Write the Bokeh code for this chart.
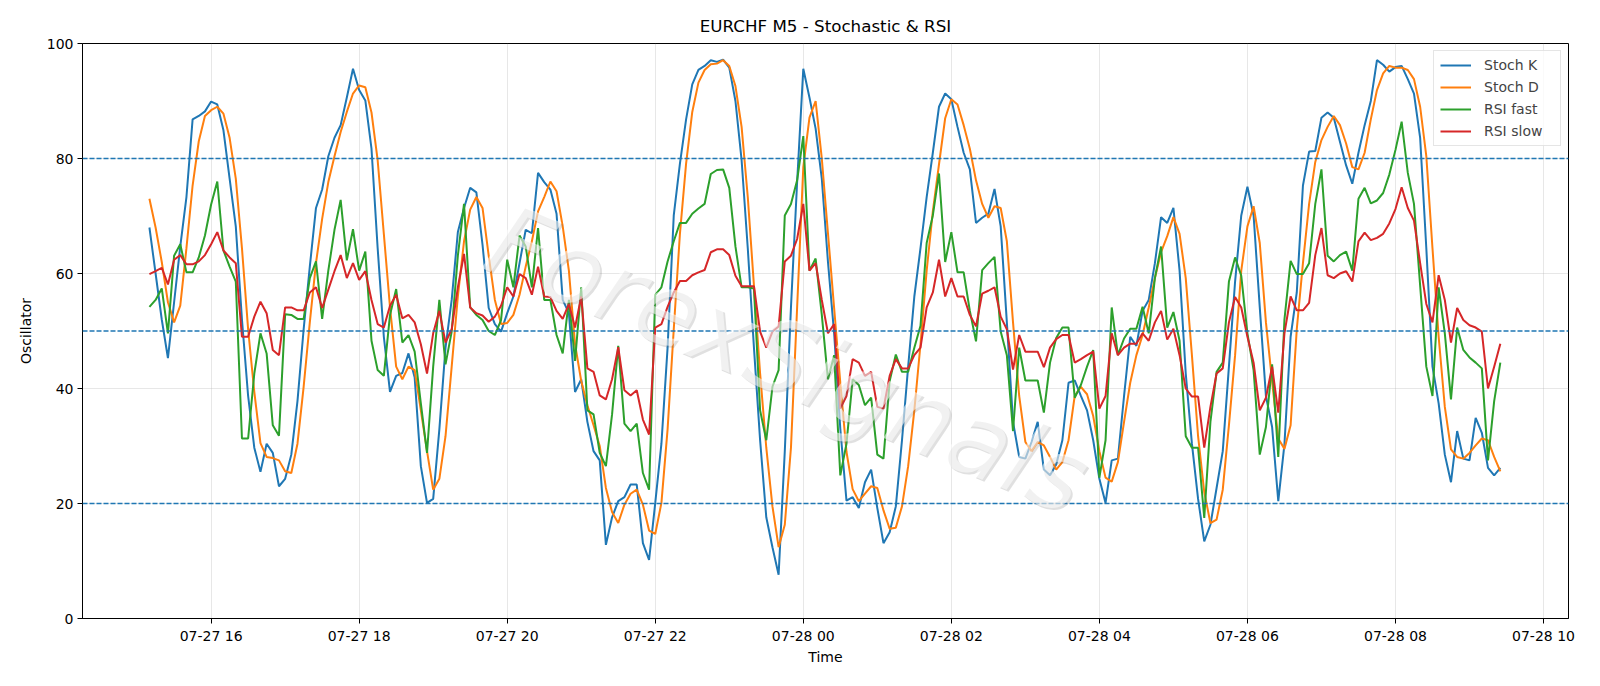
import pandas as pd
from bokeh.plotting import figure
from bokeh.models import ColumnDataSource, Span, FixedTicker, DatetimeTickFormatter, Range1d, Label
from bokeh.embed import file_html
from bokeh.resources import INLINE

# ---------------- data ----------------
start_time = "2023-07-27 15:10"
n_points = 220
times = pd.date_range(start_time, periods=n_points, freq="5min")

stoch_k = [68, 60, 52, 45.3, 55, 64.7, 73.3, 86.8, 87.4, 88.2, 89.9, 89.4, 84.9, 76.5, 68.2, 52, 38.7, 29.7, 25.5, 30.4,
           28.8, 23, 24.3, 28.5, 37.8, 50.3, 61.2, 71.4, 74.6, 80.4, 83.6, 85.8, 90.6, 95.6, 91.9, 90.1, 81.7, 64.4, 49, 39.4,
           42.2, 42.7, 46.1, 41.9, 26.5, 20.1, 20.8, 32.9, 47.1, 55.4, 67.2, 71.4, 74.9, 74.1, 65, 54, 51.2, 49.9, 53.1, 56,
           61.8, 67.6, 67, 77.5, 75.9, 74.6, 70.4, 55.4, 53.1, 39.4, 41.6, 34.2, 29.1, 27.5, 12.8, 17.6, 20.4, 21.1, 23.3, 23.3,
           13.1, 10.2, 20.1, 30.4, 47.1, 70.1, 79.1, 86.8, 92.9, 95.4, 96.1, 97.1, 96.8, 97.2, 95.8, 90, 79.7, 64.4, 47.1, 31,
           17.6, 12.4, 7.6, 29.1, 54.1, 75.9, 95.6, 90.6, 85.2, 76.5, 62, 49.6, 33, 20.5, 21.1, 19.2, 23.7, 25.9, 19.2, 13.1,
           15, 19.5, 31, 43.8, 56, 64.4, 73.3, 81, 89, 91.3, 90.3, 85.5, 81, 78.1, 68.8, 69.7, 70.4, 74.7, 68.2, 51.5,
           34.2, 28.1, 27.8, 30.7, 34.2, 25.9, 24.9, 26.8, 31, 41, 41.4, 38.7, 36.2, 31, 24.3, 20.1, 27.5, 27.8, 38.7, 49,
           47.4, 53.5, 55.4, 61.8, 69.8, 68.8, 71.4, 60.5, 42.6, 30.4, 20.8, 13.4, 16.3, 22.7, 29.1, 43.8, 58.6, 70.1, 75.1, 70.1,
           54.1, 38.7, 33.3, 20.4, 30.3, 49, 56.7, 75.3, 81.2, 81.3, 87.1, 88, 87.1, 82.9, 78.8, 75.6, 81, 85.8, 90, 97.1,
           96.3, 95.1, 95.9, 96.1, 93.8, 91.3, 83.6, 64.4, 43.8, 37.4, 28.5, 23.7, 32.6, 27.8, 27.5, 34.9, 32.3, 26.2, 24.9, 26.2]

stoch_d = [73, 68, 62, 55, 51.5, 54.4, 64.4, 75.3, 83, 87.4, 88.4, 89, 87.8, 83.6, 76.5, 64.4, 50.3, 39.4, 30.5, 28.1,
           27.9, 27.5, 25.6, 25.3, 30.4, 40.3, 51.5, 61.8, 69.5, 75.9, 80.4, 84.6, 88.1, 91.3, 92.7, 92.4, 88, 79.7, 66.9, 54.1,
           43.8, 41.6, 43.8, 43.2, 36.2, 29.1, 22.4, 24.3, 31.7, 43.8, 56, 65.6, 71.1, 73.3, 71.4, 63.1, 55.4, 51.2, 51.4, 52.8,
           56.3, 61.2, 65.6, 70.8, 73.3, 76, 74.3, 68.2, 60.5, 47.7, 41.3, 37.1, 33.6, 30, 22.7, 18.5, 16.6, 19.8, 21.7, 22.4,
           19.8, 15.3, 14.7, 20.1, 32.9, 50.3, 66.9, 79.1, 88.1, 93.2, 95.4, 96.4, 96.5, 97.1, 96.1, 92.6, 85.5, 73.3, 57.9, 42.6,
           29.7, 19.5, 12.4, 16.3, 29.7, 54.1, 78.5, 87.1, 90, 80, 67, 54, 41, 29, 22.5, 20.4, 21.7, 23, 22.7, 18.8,
           15.6, 15.8, 19.5, 26.5, 36.2, 47.7, 60.5, 70.8, 79, 87, 90.3, 89.4, 85.8, 81.7, 76.2, 72.1, 69.7, 71.7, 71.4, 65.6,
           51.5, 38.7, 30.7, 29.1, 30.7, 30.1, 28.1, 25.9, 27.2, 31, 38.7, 40.3, 39, 35.2, 29.1, 24.5, 23.8, 27.2, 34.2, 41,
           45.8, 49.3, 54.1, 59.2, 63.7, 66.5, 69.8, 66.9, 59.2, 45.8, 31.7, 22, 16.6, 17.2, 22.4, 33.6, 45.8, 60.5, 68.2, 71.7,
           65.3, 51.5, 41.3, 31.3, 29.5, 33.6, 50.3, 61.8, 72.1, 79.4, 83.2, 85.5, 87.4, 85.8, 82.6, 78.5, 78.1, 81, 86.8, 91.9,
           94.8, 96.1, 95.8, 95.8, 95.4, 93.8, 89, 80.4, 64.4, 49, 36.8, 29.4, 28.1, 27.8, 28.8, 30.1, 31.3, 31, 28.1, 25.6]

rsi_fast = [54.2, 55.4, 57.4, 49.6, 63.1, 65.1, 60.2, 60.2, 62.8, 66.6, 72, 76, 64, 61.2, 58.6, 31.3, 31.3, 42.6, 49.6, 46.1,
            33.6, 31.8, 52.9, 52.8, 52.1, 52.1, 59.2, 62.1, 52.1, 60.5, 67.6, 72.8, 62.3, 67.7, 60.5, 63.8, 48.3, 43.2, 42.2, 52.8,
            57.3, 48, 49.3, 46.4, 37.4, 28.8, 43.8, 55.4, 44.2, 49.9, 63.1, 72.1, 54.1, 52.8, 51.9, 50, 49.3, 51.9, 62.4, 57.6,
            66.6, 64.7, 57.6, 67.9, 55.4, 55.4, 49.3, 46.1, 55.4, 44.8, 57.6, 36.2, 35.5, 28.8, 26.5, 35.5, 47.4, 33.9, 32.6, 33.9,
            25.3, 22.4, 56.3, 57.6, 62.1, 65.6, 68.8, 68.8, 70.4, 71.3, 72.1, 77.3, 78, 78.1, 74.9, 64.7, 57.6, 57.6, 57.4, 36.2,
            31, 40.3, 43.2, 70.1, 72.1, 76.2, 83.9, 60.5, 62.6, 52.8, 41.6, 45.8, 24.9, 30.4, 41.6, 40.6, 37.1, 38.4, 28.5, 27.8,
            41.3, 45.9, 42.9, 42.9, 47.1, 50.9, 65.3, 70.1, 77.4, 62, 67.2, 60.2, 60.2, 53.5, 48.2, 60.6, 61.8, 62.9, 49.9, 45.8,
            32.6, 47.1, 41.4, 41.4, 41.4, 35.8, 44.5, 48.8, 50.6, 50.6, 38.4, 40.6, 43.8, 46.7, 24.5, 31, 54.1, 45.8, 48.7, 50.4,
            50.4, 54.2, 49.6, 59.2, 64.7, 50.6, 53.3, 48.3, 31.7, 29.7, 29.7, 17.5, 34.2, 42.9, 44.5, 58.6, 62.8, 59.6, 49.6, 43.2,
            28.5, 33.3, 44.2, 28.1, 52, 62.2, 59.9, 59.9, 61.8, 72.1, 78.1, 63.1, 62.1, 63.2, 63.8, 60.5, 73, 74.9, 72.2, 72.7,
            74, 77.2, 81.5, 86.4, 77.5, 72.1, 57.9, 43.8, 38.7, 57.6, 49.6, 38.1, 50.6, 46.7, 45.4, 44.5, 43.5, 27.5, 37.8, 44.5]

rsi_slow = [59.9, 60.4, 61, 58.1, 62.4, 63.2, 61.6, 61.6, 62.1, 63.2, 65.1, 67.2, 64, 62.8, 61.8, 49, 49, 52.5, 55.1, 53.1,
            46.7, 45.8, 54.1, 54.1, 53.6, 53.6, 56.7, 57.6, 54, 57.2, 60.4, 63.2, 59.2, 61.8, 58.9, 60.4, 55.4, 51.2, 50.6, 54.4,
            56.3, 52.2, 52.8, 51.5, 47.7, 42.6, 49.6, 53.5, 48, 50.3, 57.6, 63.4, 54.1, 53.1, 52.7, 51.6, 52.5, 54.4, 57.6, 56,
            59.9, 59.2, 56.3, 61.2, 56, 55.9, 53.5, 52.1, 54.7, 50.6, 56, 43.5, 42.9, 38.8, 38.1, 41.6, 47.2, 39.7, 38.8, 39.7,
            34.6, 32, 50.6, 51.2, 54.2, 56.7, 58.7, 58.7, 59.7, 60.2, 60.6, 63.7, 64.2, 64.2, 63.2, 59.6, 57.8, 57.8, 57.8, 49.9,
            47.1, 49.9, 50.8, 62.1, 63.1, 66, 72.1, 60.5, 61.8, 55.4, 49.6, 51.2, 36.5, 38.7, 45.1, 44.5, 42.2, 42.9, 36.8, 36.5,
            42.2, 45.1, 43.5, 43.5, 45.8, 47.1, 54.1, 56.7, 62.4, 56, 59.2, 56, 56, 52.8, 50.8, 56.5, 57, 57.6, 52.5, 50.3,
            43.3, 49.3, 46.4, 46.4, 46.4, 43.7, 47.1, 48.6, 49.3, 49.3, 44.5, 45.1, 45.8, 46.4, 36.5, 38.7, 49.6, 45.8, 47.1, 47.8,
            47.8, 49.6, 48.3, 51.5, 53.5, 48.5, 50.4, 45.8, 40, 38.6, 38.6, 29.7, 36.8, 42.6, 43.5, 51.5, 55.9, 54.1, 49, 44.5,
            36.2, 38.4, 43.8, 35.8, 49.6, 56, 53.6, 53.6, 54.9, 63.2, 67.9, 59.7, 59.2, 60, 60.4, 58.6, 65.6, 67.1, 65.8, 66.2,
            66.9, 68.7, 71.2, 75, 71.4, 69.2, 61.8, 54.7, 51.5, 59.7, 55.4, 48, 54, 51.9, 51, 50.6, 49.9, 40, 43.8, 47.8]

series_names = ["Stoch K", "Stoch D", "RSI fast", "RSI slow"]
series_colors = ["#1f77b4", "#ff7f0e", "#2ca02c", "#d62728"]
level_lines = [20, 50, 80]
y_ticks = [0, 20, 40, 60, 80, 100]
x_tick_times = ["2023-07-27 16:00", "2023-07-27 18:00", "2023-07-27 20:00", "2023-07-27 22:00",
                "2023-07-28 00:00", "2023-07-28 02:00", "2023-07-28 04:00", "2023-07-28 06:00",
                "2023-07-28 08:00", "2023-07-28 10:00"]
title_text = "EURCHF M5 - Stochastic & RSI"
watermark_text = "ForexSignals"


def ms(t):
    return pd.Timestamp(t).value / 1e6


src = ColumnDataSource(dict(t=times, k=stoch_k, d=stoch_d, f=rsi_fast, s=rsi_slow))

FONT = "DejaVu Sans"
p = figure(width=1600, height=686, x_axis_type="datetime", output_backend="svg",
           toolbar_location=None, title=title_text,
           min_border_left=82, min_border_right=32, min_border_top=43, min_border_bottom=68,
           background_fill_color="white", border_fill_color="white")

p.x_range = Range1d(ms("2023-07-27 14:15:45"), ms("2023-07-28 10:20:15"))
p.y_range = Range1d(0, 100)

p.title.align = "center"
p.title.text_font = FONT
p.title.text_font_size = "16.7px"
p.title.text_font_style = "normal"
p.title.text_color = "black"
p.title.standoff = 16

for col, name, color in zip(["k", "d", "f", "s"], series_names, series_colors):
    p.line("t", col, source=src, line_color=color, line_width=2, legend_label=name)

for lv in level_lines:
    p.add_layout(Span(location=lv, dimension="width", line_color="#1f77b4",
                      line_dash="5 2", line_width=1.3))

# watermark: faint shadow + lighter face
p.add_layout(Label(x=ms("2023-07-27 23:47"), y=45, text=watermark_text, angle=-0.40,
                   x_offset=2, y_offset=-2,
                   text_align="center", text_baseline="middle", text_font=FONT,
                   text_font_size="100px", text_font_style="italic",
                   text_color="#707070", text_alpha=0.22))
p.add_layout(Label(x=ms("2023-07-27 23:47"), y=45, text=watermark_text, angle=-0.40,
                   text_align="center", text_baseline="middle", text_font=FONT,
                   text_font_size="100px", text_font_style="italic",
                   text_color="white", text_alpha=0.55))

p.xaxis.ticker = FixedTicker(ticks=[ms(t) for t in x_tick_times])
fmt = "%m-%d %H"
p.xaxis.formatter = DatetimeTickFormatter(hours=fmt, hourmin=fmt, days=fmt, minutes=fmt,
                                          minsec=fmt, seconds=fmt, months=fmt, years=fmt)
p.yaxis.ticker = FixedTicker(ticks=y_ticks)

for ax in [p.xaxis[0], p.yaxis[0]]:
    ax.axis_line_color = "black"
    ax.major_tick_line_color = "black"
    ax.major_tick_out = 5
    ax.major_tick_in = 0
    ax.minor_tick_line_color = None
    ax.major_label_text_font = FONT
    ax.major_label_text_font_size = "14px"
    ax.major_label_text_color = "black"
    ax.axis_label_text_font = FONT
    ax.axis_label_text_font_size = "14px"
    ax.axis_label_text_font_style = "normal"
    ax.axis_label_text_color = "black"
    ax.major_label_standoff = 4

p.xaxis.axis_label = "Time"
p.yaxis.axis_label = "Oscillator"
p.xaxis.axis_label_standoff = 2
p.yaxis.axis_label_standoff = 10

p.outline_line_color = "black"
p.outline_line_width = 1
p.outline_line_alpha = 1

p.grid.grid_line_color = "#b0b0b0"
p.grid.grid_line_alpha = 0.3
p.grid.grid_line_width = 1

lg = p.legend[0]
lg.location = "top_right"
lg.margin = 7
lg.padding = 6
lg.spacing = 6
lg.glyph_width = 31
lg.glyph_height = 16
lg.label_height = 16
lg.label_width = 70
lg.label_standoff = 13
lg.label_text_font = FONT
lg.label_text_font_size = "14px"
lg.border_line_color = "#cccccc"
lg.border_line_width = 1
lg.background_fill_alpha = 0.8

open("out.html", "w").write(file_html(p, INLINE))
